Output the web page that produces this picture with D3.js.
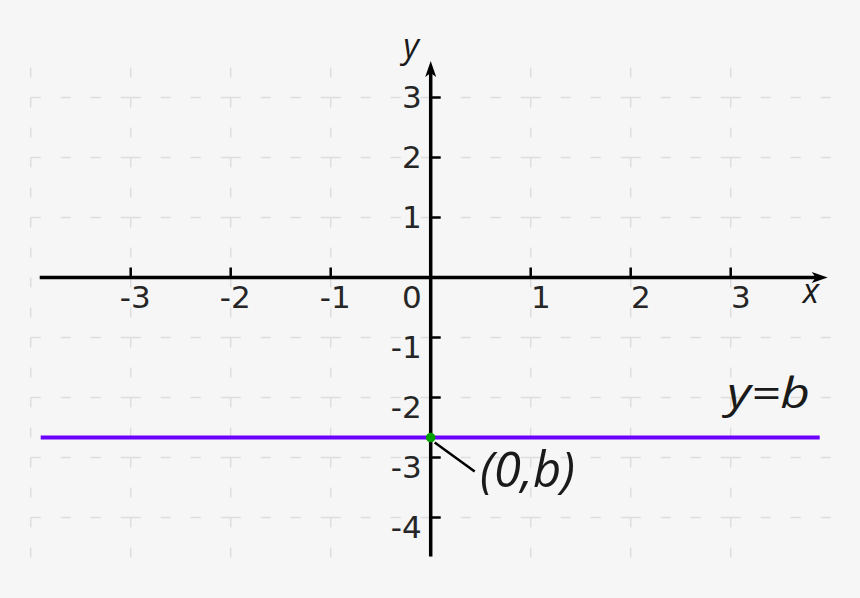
<!DOCTYPE html>
<html>
<head>
<meta charset="utf-8">
<script src="https://cdn.jsdelivr.net/npm/d3@7"></script>
<style>
  html, body { margin: 0; padding: 0; background: #f6f6f6; }
  svg { display: block; }
</style>
</head>
<body>
<div id="chart"></div>
<script>
// tick values and grid positions (axis units)
var xTicks = [-3, -2, -1, 1, 2, 3]
var yTicks = [3, 2, 1, -1, -2, -3, -4]
var gridXs = [-4, -3, -2, -1, 0, 1, 2, 3]
var gridYs = [3, 2, 1, -1, -2, -3, -4]
var gridYExtent = [3.5, -4.67]
var xAxisExtent = [-3.91, 3.97]
var yAxisExtent = [-4.65, 3.61]
// the line y = b
var b = -2.667
var lineXs = [-3.9, 3.89]

var width = 860
var height = 598

var x = d3.scaleLinear().domain([-4, 4]).range([30.7, 830.7])
var y = d3.scaleLinear().domain([-4, 3]).range([517.5, 97.5])

var svg = d3.select("#chart").append("svg")
  .attr("width", width)
  .attr("height", height)

svg.append("rect")
  .attr("width", width)
  .attr("height", height)
  .attr("fill", "#f6f6f6")

// dashed grid: horizontal lines restart the dash at each cell
var hPath = ""
gridYs.forEach(function(v){
  gridXs.forEach(function(g){
    hPath += "M" + x(g) + "," + y(v) + "H" + x(g + 1)
  })
})
svg.append("path")
  .attr("d", hPath)
  .attr("fill", "none")
  .attr("stroke", "#dddddd")
  .attr("stroke-width", 1.5)
  .attr("stroke-dasharray", "10,20")

svg.selectAll(".vgrid")
    .data(gridXs)
    .enter()
  .append("line")
    .attr("class", "vgrid")
    .attr("x1", function(d){ return x(d) })
    .attr("x2", function(d){ return x(d) })
    .attr("y1", y(gridYExtent[0]))
    .attr("y2", y(gridYExtent[1]))
    .attr("stroke", "#dddddd")
    .attr("stroke-width", 1.5)
    .attr("stroke-dasharray", "10,20")

// axes
var axisColor = "#000"
var axisWidth = 3.5

svg.append("line")
  .attr("x1", x(xAxisExtent[0]))
  .attr("x2", x(xAxisExtent[1]) - 10)
  .attr("y1", y(0)).attr("y2", y(0))
  .attr("stroke", axisColor)
  .attr("stroke-width", axisWidth)

svg.append("line")
  .attr("x1", x(0)).attr("x2", x(0))
  .attr("y1", y(yAxisExtent[0]))
  .attr("y2", y(yAxisExtent[1]) + 10)
  .attr("stroke", axisColor)
  .attr("stroke-width", axisWidth)

// arrowheads
var arrow = "M0,0 L-16,-5.5 L-12,0 L-16,5.5 Z"
svg.append("path")
  .attr("d", arrow)
  .attr("transform", "translate(" + x(xAxisExtent[1]) + "," + y(0) + ")")
  .attr("fill", axisColor)
svg.append("path")
  .attr("d", arrow)
  .attr("transform", "translate(" + x(0) + "," + y(yAxisExtent[1]) + ") rotate(-90)")
  .attr("fill", axisColor)

// tick marks
svg.selectAll(".xtick")
    .data(xTicks)
    .enter()
  .append("line")
    .attr("x1", function(d){ return x(d) })
    .attr("x2", function(d){ return x(d) })
    .attr("y1", y(0))
    .attr("y2", y(0) - 10)
    .attr("stroke", axisColor)
    .attr("stroke-width", 2.5)

svg.selectAll(".ytick")
    .data(yTicks)
    .enter()
  .append("line")
    .attr("x1", x(0))
    .attr("x2", x(0) + 10)
    .attr("y1", function(d){ return y(d) })
    .attr("y2", function(d){ return y(d) })
    .attr("stroke", axisColor)
    .attr("stroke-width", 2.5)

// tick labels
var labelFont = "'DejaVu Sans', sans-serif"
var labelColor = "#262626"
var fmt = function(d){ return d < 0 ? "-" + Math.abs(d) : String(d) }

svg.selectAll(".xlabel")
    .data(xTicks)
    .enter()
  .append("text")
    .attr("x", function(d){ return x(d) + 20 })
    .attr("y", y(0) + 30)
    .attr("text-anchor", "end")
    .attr("font-family", labelFont)
    .attr("font-size", 31)
    .attr("fill", labelColor)
    .text(fmt)

svg.append("text")
  .attr("x", x(0) - 9)
  .attr("y", y(0) + 30)
  .attr("text-anchor", "end")
  .attr("font-family", labelFont)
  .attr("font-size", 31)
  .attr("fill", labelColor)
  .text("0")

svg.selectAll(".ylabel")
    .data(yTicks)
    .enter()
  .append("text")
    .attr("x", x(0) - 9)
    .attr("y", function(d){ return y(d) + (d < 0 ? 20 : 10) })
    .attr("text-anchor", "end")
    .attr("font-family", labelFont)
    .attr("font-size", 31)
    .attr("fill", labelColor)
    .text(fmt)

// axis names
var italicFont = "'Open Sans', 'DejaVu Sans', sans-serif"
svg.append("text")
  .attr("x", 819)
  .attr("y", 303)
  .attr("text-anchor", "end")
  .attr("font-family", italicFont)
  .attr("font-style", "italic")
  .attr("font-size", 34)
  .attr("fill", "#1a1a1a")
  .text("x")

svg.append("text")
  .attr("x", 411)
  .attr("y", 58)
  .attr("text-anchor", "middle")
  .attr("font-family", italicFont)
  .attr("font-style", "italic")
  .attr("font-size", 34)
  .attr("fill", "#1a1a1a")
  .text("y")

// y = b
svg.append("line")
  .attr("x1", x(lineXs[0]))
  .attr("x2", x(lineXs[1]))
  .attr("y1", y(b))
  .attr("y2", y(b))
  .attr("stroke", "#6b00ff")
  .attr("stroke-width", 4)

// leader from the intercept to its label
svg.append("line")
  .attr("x1", x(0) + 4)
  .attr("y1", y(b) + 5)
  .attr("x2", x(0) + 44)
  .attr("y2", y(b) + 34)
  .attr("stroke", "#000")
  .attr("stroke-width", 2.5)

svg.append("circle")
  .attr("cx", x(0))
  .attr("cy", y(b))
  .attr("r", 4.8)
  .attr("fill", "#00a000")

svg.append("text")
  .attr("x", 727)
  .attr("y", 408)
  .attr("font-family", italicFont)
  .attr("font-style", "italic")
  .attr("font-size", 42)
  .attr("textLength", 83)
  .attr("lengthAdjust", "spacingAndGlyphs")
  .attr("fill", "#1a1a1a")
  .text("y=b")

svg.append("text")
  .attr("x", 480)
  .attr("y", 487)
  .attr("font-family", italicFont)
  .attr("font-style", "italic")
  .attr("font-size", 50)
  .attr("textLength", 95)
  .attr("lengthAdjust", "spacingAndGlyphs")
  .attr("fill", "#1a1a1a")
  .text("(0,b)")
</script>
</body>
</html>
